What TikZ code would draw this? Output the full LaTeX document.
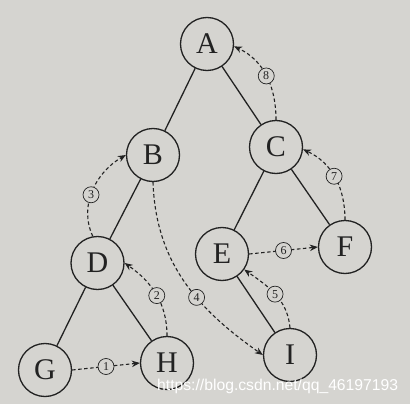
\documentclass[tikz,border=0pt]{standalone}
\usepackage{fontspec}
\setmainfont{Liberation Serif}
\newfontfamily\wmfont{Liberation Sans}
\usetikzlibrary{arrows.meta}
\definecolor{paper}{HTML}{D5D4D0}
\definecolor{ink}{HTML}{222222}
\begin{document}
\begin{tikzpicture}[x=1pt,y=-1pt,
  tnode/.style={circle,draw=ink,line width=1.3pt,minimum size=53pt,inner sep=0pt,
    font=\fontsize{30}{30}\selectfont,text=ink},
  tedge/.style={draw=ink,line width=1.3pt},
  thread/.style={draw=ink,line width=1.1pt,dash pattern=on 3.5pt off 2.5pt,
    -{Stealth[length=8pt,width=6.5pt]}},
  numlab/.style={circle,draw=ink,solid,line width=0.7pt,fill=paper,inner sep=0pt,
    minimum size=16pt,font=\fontsize{12}{12}\selectfont,text=ink}]
\fill[paper] (0,0) rectangle (410,404);
\useasboundingbox (0,0) rectangle (410,404);
\node[tnode] (A) at (207,44) {A};
\node[tnode] (B) at (153,155) {B};
\node[tnode] (C) at (276,147) {C};
\node[tnode] (D) at (97.5,263) {D};
\node[tnode] (E) at (222,254) {E};
\node[tnode] (F) at (345,247) {F};
\node[tnode] (G) at (45,370) {G};
\node[tnode] (H) at (167,363) {H};
\node[tnode] (I) at (290,355) {I};
\draw[tedge] (A) -- (B);
\draw[tedge] (A) -- (C);
\draw[tedge] (B) -- (D);
\draw[tedge] (C) -- (E);
\draw[tedge] (C) -- (F);
\draw[tedge] (D) -- (G);
\draw[tedge] (D) -- (H);
\draw[tedge] (E) -- (I);
% threads
\draw[thread] (G.east) -- node[numlab] {1} (H.west);
\draw[thread] (H.north) to[out=90,in=-35] node[numlab,pos=0.48] {2} (D.east);
\draw[thread] (D.100) to[out=115,in=-150] node[numlab,pos=0.45] {3} (B.west);
\draw[thread] (B.south) to[out=-88,in=145] node[numlab,pos=0.6] {4} (I.west);
\draw[thread] (I.north) to[out=95,in=-35] node[numlab,pos=0.5] {5} (E.-35);
\draw[thread] (E.east) -- node[numlab] {6} (F.west);
\draw[thread] (F.north) to[out=90,in=-25] node[numlab,pos=0.52] {7} (C.-5);
\draw[thread] (C.north) to[out=90,in=-25] node[numlab,pos=0.5] {8} (A.-5);
\node[anchor=base west,inner sep=0pt,text=white,font=\wmfont\fontsize{15.7}{16}\selectfont] (wm) at (157,390) {https://blog.csdn.net/qq\_46197193};
\end{tikzpicture}
\end{document}
